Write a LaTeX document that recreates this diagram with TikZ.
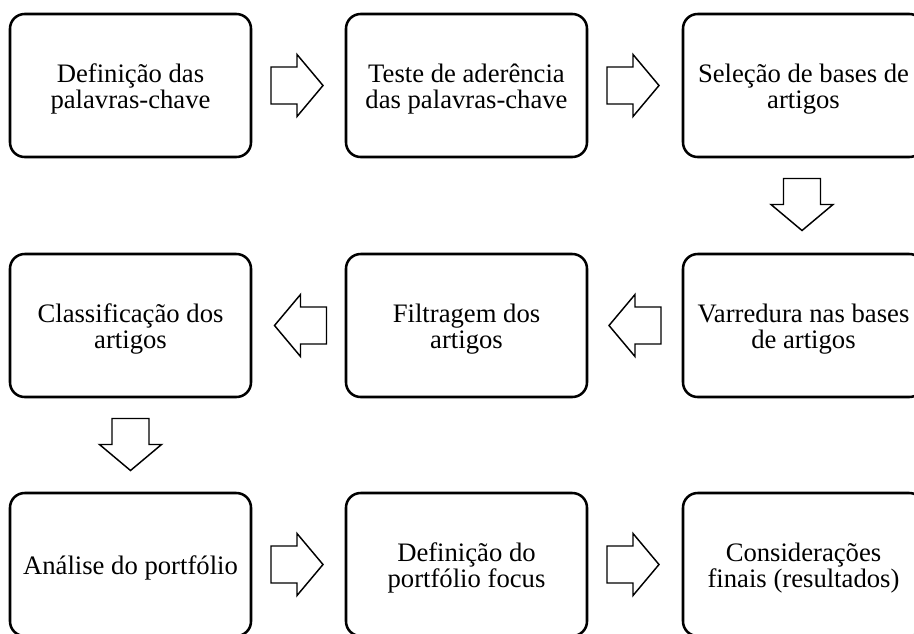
\documentclass[tikz,border=0pt]{standalone}
\usepackage{fontspec}
\setmainfont{Liberation Serif}
\usetikzlibrary{calc}
\tikzset{
  box/.style={draw, line width=1.9pt, rounded corners=11pt,
    minimum width=180.75pt, minimum height=107.25pt, inner sep=0pt},
  boxtext/.style={align=center, inner sep=0pt, font=\fontsize{20}{20}\selectfont},
  blkarrow/.pic={\draw[line width=1.1pt, line join=miter]
    (-26,-18.5) -- (0,-18.5) -- (0,-31) -- (26,0) -- (0,31) -- (0,18.5) -- (-26,18.5) -- cycle;}
}
\newcommand\stepbox[3]{%
  \node[box] (#1) at (#2) {};
  \node[boxtext] (#1t) at ($(#1.center)+(0,3.5)$) {#3};
}
\begin{document}
\begin{tikzpicture}[x=0.75pt,y=-0.75pt]
\useasboundingbox (0,0) rectangle (914,633);
\clip (0,0) rectangle (914,633);
% row 1
\stepbox{b1}{130.5,85.5}{Definição das\\palavras-chave}
\stepbox{b2}{466.5,85.5}{Teste de aderência\\das palavras-chave}
\stepbox{b3}{803.5,85.5}{Seleção de bases de\\artigos}
% row 2
\stepbox{b4}{803.5,325.5}{Varredura nas bases\\de artigos}
\stepbox{b5}{466.5,325.5}{Filtragem dos\\artigos}
\stepbox{b6}{130.5,325.5}{Classificação dos\\artigos}
% row 3
\stepbox{b7}{130.5,564.5}{Análise do portfólio}
\stepbox{b8}{466.5,564.5}{Definição do\\portfólio focus}
\stepbox{b9}{803.5,564.5}{Considerações\\finais (resultados)}
% arrows
\pic at ($(b1.east)!0.5!(b2.west)+(-1.5,0)$) {blkarrow};
\pic at ($(b2.east)!0.5!(b3.west)+(-2,0)$) {blkarrow};
\pic[rotate=-90] at ($(b3.south)!0.5!(b4.north)+(-1.5,-1)$) {blkarrow};
\pic[rotate=180] at ($(b4.west)!0.5!(b5.east)+(0,0)$) {blkarrow};
\pic[rotate=180] at ($(b5.west)!0.5!(b6.east)+(2,0)$) {blkarrow};
\pic[rotate=-90] at ($(b6.south)!0.5!(b7.north)+(0,-0.5)$) {blkarrow};
\pic at ($(b7.east)!0.5!(b8.west)+(-1.5,0)$) {blkarrow};
\pic at ($(b8.east)!0.5!(b9.west)+(-2,0)$) {blkarrow};
\end{tikzpicture}
\end{document}
